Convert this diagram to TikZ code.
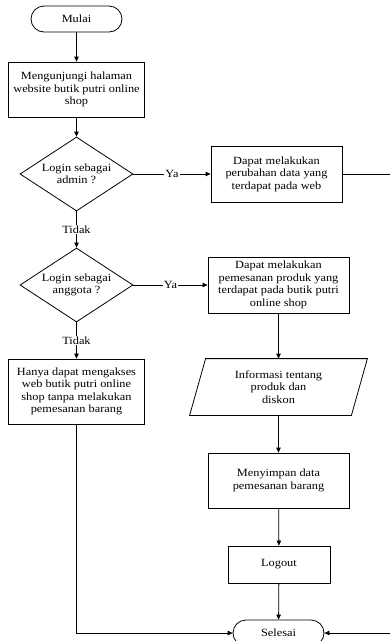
\documentclass[tikz,border=0pt]{standalone}
\usepackage{fontspec}
\setmainfont{Liberation Serif}[FakeStretch=1.12]
\usetikzlibrary{shapes.geometric,arrows.meta}
\begin{document}
\begin{tikzpicture}[x=1pt,y=-1pt,
  base/.style={draw=black,line width=0.8pt,inner sep=0pt,align=center,font=\fontsize{11}{12.5}\selectfont},
  proc/.style={base,rectangle},
  term/.style={base,rectangle,rounded corners=13pt,minimum width=91pt,minimum height=26pt},
  dec/.style={base,diamond,aspect=1.5,minimum width=113pt,minimum height=74pt},
  lbl/.style={fill=white,inner sep=1pt,font=\fontsize{11}{12.5}\selectfont},
  conn/.style={draw=black,line width=0.8pt},
  arr/.style={conn,-{Triangle[length=5pt,width=4.5pt]}}]
\useasboundingbox (0,0) rectangle (389,641);

\node[term] (mulai) at (76.5,19) {Mulai};
\node[proc,minimum width=136pt,minimum height=55pt] (b1) at (76.5,89.5) {Mengunjungi halaman\\website butik putri online\\shop};
\node[dec] (dadm) at (76.5,174) {Login sebagai\\admin ?};
\node[proc,minimum width=131pt,minimum height=56pt] (adm) at (276.5,174) {Dapat melakukan\\perubahan data yang\\terdapat pada web};
\node[dec] (dang) at (76.5,285) {Login sebagai\\anggota ?};
\node[proc,minimum width=141pt,minimum height=56pt] (ang) at (278.5,285) {Dapat melakukan\\pemesanan produk yang\\terdapat pada butik putri\\online shop};
\node[proc,minimum width=136pt,minimum height=65pt] (left) at (76.5,391.5) {Hanya dapat mengakses\\web butik putri online\\shop tanpa melakukan\\pemesanan barang};
\node[base,draw=none,minimum width=161pt,minimum height=56pt] (para) at (278.5,387) {Informasi tentang\\produk dan\\diskon};
\draw[conn] ([xshift=-8pt]para.south west) -- ([xshift=8pt]para.north west) -- ([xshift=8pt]para.north east) -- ([xshift=-8pt]para.south east) -- cycle;
\node[proc,minimum width=141pt,minimum height=55pt] (simpan) at (278.5,480.5) {Menyimpan data\\pemesanan barang};
\node[proc,minimum width=102pt,minimum height=37pt] (logout) at (279,564.5) {Logout};
\node[term] (sel) at (278.5,633) {Selesai};

\draw[arr] (mulai) -- (b1);
\draw[arr] (b1) -- (dadm);
\draw[arr] (dadm) -- node[lbl]{Ya} (adm);
\draw[arr] (dadm) -- node[lbl]{Tidak} (dang);
\draw[arr] (dang) -- node[lbl]{Ya} (ang);
\draw[arr] (dang) -- node[lbl]{Tidak} (left);
\draw[arr] (ang) -- (para);
\draw[arr] (para) -- (simpan);
\draw[arr] (simpan) -- (logout);
\draw[arr] (logout) -- (sel);
\draw[arr] (left.south) |- (sel.west);
\draw[arr] (adm.east) -- ++(56,0) |- (sel.east);
\end{tikzpicture}
\end{document}
